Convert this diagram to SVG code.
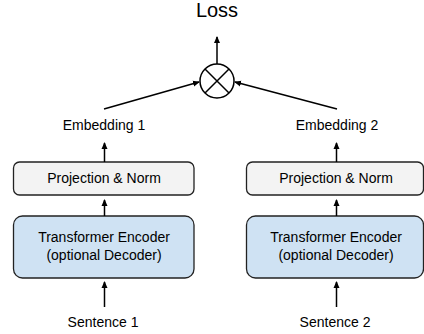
<svg xmlns="http://www.w3.org/2000/svg" width="424" height="334" viewBox="0 0 424 334">
<style>
text{font-family:"Liberation Sans",Arial,sans-serif;fill:#000;text-anchor:middle}
.lbl{font-size:14px}
.loss{font-size:20px}
.proj{fill:#f3f3f3;stroke:#222;stroke-width:1.3}
.enc{fill:#cfe2f3;stroke:#222;stroke-width:1.3}
.ln{stroke:#000;stroke-width:1.5;fill:none}
</style>
<defs>
<marker id="ah" markerWidth="8" markerHeight="8" refX="6" refY="4" orient="auto" markerUnits="userSpaceOnUse">
<path d="M0,1 L7,4 L0,7 Z" fill="#000"/>
</marker>
</defs>
<g id="loss"><text class="loss" x="217" y="17">Loss</text></g>
<g id="mult">
<circle cx="217" cy="81" r="17" fill="#fff" stroke="#000" stroke-width="1.5"/>
<path d="M205,69 L229,93 M229,69 L205,93" stroke="#000" stroke-width="1.5"/>
</g>
<g id="emb1"><text class="lbl" x="104" y="130">Embedding 1</text></g>
<g id="emb2"><text class="lbl" x="337" y="130">Embedding 2</text></g>
<g id="proj1"><rect class="proj" x="13.5" y="162" width="180.5" height="33" rx="6"/><text class="lbl" x="104" y="183">Projection &amp; Norm</text></g>
<g id="proj2"><rect class="proj" x="246.5" y="162" width="177" height="33" rx="6"/><text class="lbl" x="336" y="183">Projection &amp; Norm</text></g>
<g id="enc1"><rect class="enc" x="13.5" y="216" width="180.5" height="62" rx="9"/><text class="lbl" x="104" y="242">Transformer Encoder</text><text class="lbl" x="104" y="260">(optional Decoder)</text></g>
<g id="enc2"><rect class="enc" x="246.5" y="216" width="177" height="62" rx="9"/><text class="lbl" x="336" y="242">Transformer Encoder</text><text class="lbl" x="336" y="260">(optional Decoder)</text></g>
<g id="sent1"><text class="lbl" x="103" y="327">Sentence 1</text></g>
<g id="sent2"><text class="lbl" x="335" y="327">Sentence 2</text></g>
<g id="connectors">
<line class="ln" x1="217" y1="64" x2="217" y2="37" marker-end="url(#ah)"/>
<line class="ln" x1="104" y1="109" x2="199" y2="82" marker-end="url(#ah)"/>
<line class="ln" x1="337" y1="109" x2="235" y2="82" marker-end="url(#ah)"/>
<line class="ln" x1="104.5" y1="162" x2="104.5" y2="143" marker-end="url(#ah)"/>
<line class="ln" x1="336.5" y1="162" x2="336.5" y2="143" marker-end="url(#ah)"/>
<line class="ln" x1="104.5" y1="216" x2="104.5" y2="200" marker-end="url(#ah)"/>
<line class="ln" x1="336.5" y1="216" x2="336.5" y2="200" marker-end="url(#ah)"/>
<line class="ln" x1="104.5" y1="307" x2="104.5" y2="282" marker-end="url(#ah)"/>
<line class="ln" x1="336.5" y1="307" x2="336.5" y2="282" marker-end="url(#ah)"/>
</g>
</svg>
